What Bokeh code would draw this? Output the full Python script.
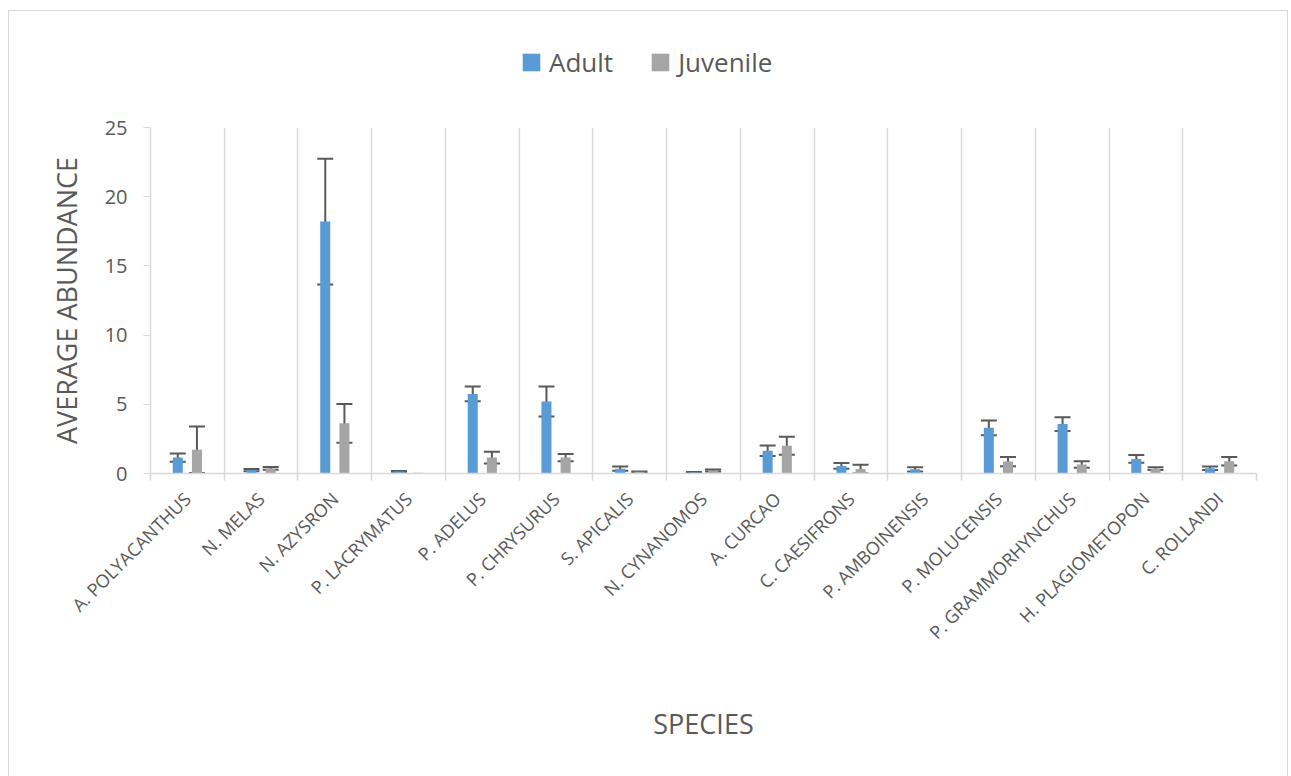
from math import pi
from bokeh.plotting import figure
from bokeh.layouts import column
from bokeh.models import (ColumnDataSource, Range1d, FixedTicker, Whisker, TeeHead,
                          Legend, LegendItem)
from bokeh.embed import file_html
from bokeh.resources import INLINE

species = ["A. POLYACANTHUS", "N. MELAS", "N. AZYSRON", "P. LACRYMATUS", "P. ADELUS",
           "P. CHRYSURUS", "S. APICALIS", "N. CYNANOMOS", "A. CURCAO", "C. CAESIFRONS",
           "P. AMBOINENSIS", "P. MOLUCENSIS", "P. GRAMMORHYNCHUS", "H. PLAGIOMETOPON",
           "C. ROLLANDI"]
adult = [1.15, 0.25, 18.2, 0.15, 5.75, 5.2, 0.35, 0.08, 1.65, 0.55, 0.3, 3.3, 3.57, 1.05, 0.38]
adult_err = [0.3, 0.08, 4.55, 0.03, 0.53, 1.08, 0.15, 0.02, 0.38, 0.2, 0.15, 0.53, 0.5, 0.28, 0.12]
juvenile = [1.72, 0.37, 3.63, 0.05, 1.15, 1.15, 0.12, 0.22, 2.0, 0.32, 0.03, 0.86, 0.65, 0.36, 0.88]
juvenile_err = [1.68, 0.1, 1.4, 0.0, 0.42, 0.26, 0.03, 0.07, 0.65, 0.32, 0.0, 0.33, 0.23, 0.1, 0.31]
y_ticks = [0, 5, 10, 15, 20, 25]
series = ["Adult", "Juvenile"]

FONT = "Open Sans"
TXT = "#595959"
GRID = "#d9d9d9"
BLUE = "#5B9BD5"
GRAY = "#A5A5A5"

n = len(species)
centers = [i + 0.5 for i in range(n)]
bounds = list(range(n + 1))
off = 0.13
bw = 0.136

# ---- legend strip (separate small figure above the chart) ----
lf = figure(width=1278, height=96, output_backend="svg", toolbar_location=None,
            x_axis_type=None, y_axis_type=None, x_range=Range1d(0, 1), y_range=Range1d(0, 1),
            min_border=0, min_border_left=0, min_border_right=0, min_border_top=0,
            min_border_bottom=0)
lf.outline_line_color = None
lf.xgrid.visible = False
lf.ygrid.visible = False
# legend proxies: one off-range box each, only their legend swatches are seen
proxy = ColumnDataSource(dict(left=[-3], right=[-2], bottom=[-3], top=[-2]))
la = lf.quad(left="left", right="right", bottom="bottom", top="top", source=proxy,
             fill_color=BLUE, line_color=None)
lj = lf.quad(left="left", right="right", bottom="bottom", top="top", source=proxy,
             fill_color=GRAY, line_color=None)
legend = Legend(items=[LegendItem(label=series[0], renderers=[la]),
                       LegendItem(label=series[1], renderers=[lj])],
                orientation="horizontal", location=(370, 27),
                glyph_width=22, glyph_height=22, label_standoff=7, spacing=36,
                padding=0, margin=0, border_line_color=None,
                background_fill_alpha=0,
                label_text_font=FONT, label_text_font_size="26px", label_text_color=TXT)
lf.add_layout(legend, "center")

# ---- main chart ----
p = figure(width=1278, height=669, output_backend="svg", toolbar_location=None,
           x_range=Range1d(0, n), y_range=Range1d(0, 25),
           min_border_left=141, min_border_right=31, min_border_top=20, min_border_bottom=303)
p.outline_line_color = None
p.background_fill_color = "white"
p.border_fill_color = "white"

src_a = ColumnDataSource(dict(x=[c - off for c in centers], top=adult, err=adult_err))
src_j = ColumnDataSource(dict(x=[c + off for c in centers], top=juvenile, err=juvenile_err))

p.vbar(x="x", top="top", width=bw, source=src_a, fill_color=BLUE, line_color=None)
p.vbar(x="x", top="top", width=bw, source=src_j, fill_color=GRAY, line_color=None)

def whisker(xs, vals, errs):
    keep = [i for i in range(len(vals)) if errs[i] > 0]
    s = ColumnDataSource(dict(
        base=[xs[i] for i in keep],
        upper=[vals[i] + errs[i] for i in keep],
        lower=[vals[i] - errs[i] for i in keep]))
    w = Whisker(base="base", upper="upper", lower="lower", source=s,
                line_color="#595959", line_width=2,
                upper_head=TeeHead(size=16, line_color="#595959", line_width=2),
                lower_head=TeeHead(size=16, line_color="#595959", line_width=2))
    p.add_layout(w)

whisker([c - off for c in centers], adult, adult_err)
whisker([c + off for c in centers], juvenile, juvenile_err)

# x axis
xa = p.xaxis[0]
xa.ticker = FixedTicker(ticks=centers, minor_ticks=bounds)
xa.major_label_overrides = {c: s for c, s in zip(centers, species)}
xa.major_label_orientation = pi / 4
xa.major_tick_line_color = None
xa.minor_tick_in = 0
xa.minor_tick_out = 7
xa.minor_tick_line_color = GRID
xa.minor_tick_line_width = 1.5
xa.axis_line_color = GRID
xa.axis_line_width = 1.5
xa.major_label_text_font = FONT
xa.major_label_text_font_size = "18px"
xa.major_label_text_color = TXT
xa.major_label_standoff = 15
xa.axis_label = "SPECIES"
xa.axis_label_text_font = FONT
xa.axis_label_text_font_size = "27px"
xa.axis_label_text_font_style = "normal"
xa.axis_label_text_color = TXT
xa.axis_label_standoff = 50

# y axis
ya = p.yaxis[0]
ya.ticker = FixedTicker(ticks=y_ticks)
ya.major_tick_in = 0
ya.major_tick_out = 7
ya.major_tick_line_color = GRID
ya.minor_tick_line_color = None
ya.axis_line_color = GRID
ya.axis_line_width = 1.5
ya.major_label_text_font = FONT
ya.major_label_text_font_size = "20px"
ya.major_label_text_color = TXT
ya.major_label_standoff = 16
ya.axis_label = "AVERAGE ABUNDANCE"
ya.axis_label_text_font = FONT
ya.axis_label_text_font_size = "27px"
ya.axis_label_text_font_style = "normal"
ya.axis_label_text_color = TXT
ya.axis_label_standoff = 17

p.ygrid.grid_line_color = None
p.xgrid.ticker = FixedTicker(ticks=bounds)
p.xgrid.grid_line_color = GRID
p.xgrid.grid_line_width = 1.5

layout = column(lf, p, spacing=0)
layout.styles = {"border-top": "1px solid #d9d9d9", "border-left": "1px solid #d9d9d9",
                 "border-right": "1px solid #d9d9d9", "margin-left": "8px", "margin-top": "10px"}

open("out.html", "w").write(file_html(layout, INLINE))
